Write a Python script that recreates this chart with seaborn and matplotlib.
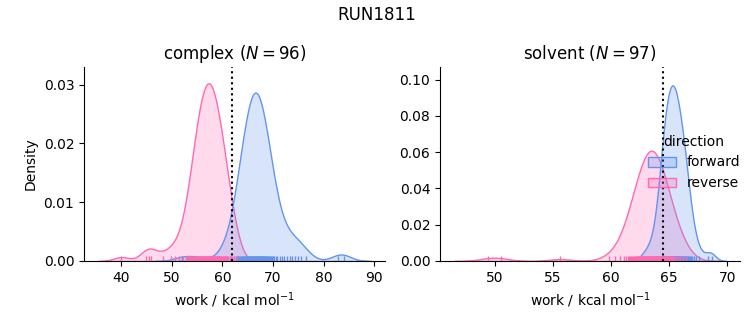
import matplotlib
matplotlib.use("Agg")
import matplotlib.pyplot as plt
import numpy as np
import pandas as pd
import seaborn as sns

run_name = "RUN1811"
phases = ["complex", "solvent"]
directions = ["forward", "reverse"]
colors = {"forward": "cornflowerblue", "reverse": "hotpink"}

complex_forward = [
    52.0, 54.8, 59.8, 60.6, 61.6, 62.3, 62.7, 62.9, 63.0,
    63.1, 63.3, 63.5, 63.7, 63.8, 63.9,
    64.0, 64.15, 64.3, 64.4, 64.5, 64.6, 64.7, 64.8, 64.9,
    65.0, 65.1, 65.15, 65.2, 65.3, 65.4, 65.5, 65.6, 65.65, 65.7, 65.8, 65.9, 65.95,
    66.0, 66.1, 66.2, 66.25, 66.3, 66.4, 66.5, 66.55, 66.6, 66.7, 66.75,
    66.8, 66.9, 66.95,
    67.0, 67.1, 67.2, 67.3, 67.4, 67.5, 67.6, 67.65, 67.7, 67.8, 67.9, 67.95,
    68.0, 68.1, 68.2, 68.3, 68.4, 68.5, 68.6, 68.7, 68.8, 68.9,
    69.1, 69.2, 69.4, 69.5, 69.6, 69.8, 69.9, 70.0,
    70.2, 70.5, 70.8, 71.3, 71.7, 72.2, 72.7, 73.3, 73.8, 74.4, 74.9,
    75.6, 76.6, 82.9, 84.0,
]
complex_reverse = [
    40.1, 45.0, 45.5, 45.9, 48.3, 49.9, 50.6, 51.5, 52.3, 52.8,
    53.0, 53.2, 53.5, 53.7, 53.9,
    54.1, 54.2, 54.4, 54.5, 54.6, 54.7, 54.8, 54.9,
    55.0, 55.1, 55.2, 55.3, 55.4, 55.5, 55.6, 55.7, 55.8, 55.9, 55.95,
    56.0, 56.1, 56.15, 56.2, 56.3, 56.4, 56.5, 56.6, 56.7, 56.75, 56.8, 56.9, 56.95,
    57.0, 57.1, 57.2, 57.3, 57.35, 57.4, 57.5, 57.6, 57.65, 57.7,
    57.8, 57.9, 57.95,
    58.0, 58.1, 58.2, 58.3, 58.35, 58.4, 58.5, 58.6, 58.7, 58.8, 58.9, 58.95,
    59.0, 59.1, 59.2, 59.3, 59.4, 59.5, 59.6, 59.7, 59.8, 59.9,
    60.1, 60.2, 60.4, 60.5, 60.6, 60.8, 60.9, 61.0,
    61.2, 61.5, 61.7, 61.9, 62.3, 62.8,
]
solvent_forward = [
    62.8, 63.2, 63.5, 63.7, 63.85, 63.95,
    64.05, 64.12, 64.2, 64.27, 64.3, 64.33, 64.38, 64.42, 64.46, 64.49,
    64.51, 64.54, 64.57, 64.6, 64.63, 64.66, 64.69, 64.72, 64.75, 64.78,
    64.81, 64.84, 64.87, 64.9, 64.93, 64.96, 64.98,
    65.01, 65.03, 65.05, 65.07, 65.1, 65.12, 65.14, 65.17, 65.21,
    65.24, 65.26, 65.28, 65.3, 65.33, 65.35, 65.37, 65.4, 65.42, 65.44,
    65.46, 65.48,
    65.51, 65.54, 65.56, 65.59, 65.64, 65.67, 65.7, 65.72, 65.75,
    65.78, 65.8, 65.83, 65.86, 65.88, 65.91, 65.94, 65.96, 65.99,
    66.03, 66.07, 66.1, 66.14, 66.18, 66.21, 66.25, 66.29, 66.32, 66.36,
    66.4, 66.44, 66.48,
    66.55, 66.6, 66.62, 66.7, 66.78, 66.86, 66.94,
    67.1, 67.3, 67.6, 68.3, 68.7,
]
solvent_reverse = [
    49.4, 50.5, 55.6, 59.8, 60.3, 60.8, 61.1, 61.3, 61.45,
    61.55, 61.65, 61.75, 61.83, 61.9, 61.97,
    62.05, 62.1, 62.16, 62.22, 62.28, 62.33, 62.38, 62.43, 62.48,
    62.52, 62.56, 62.6, 62.64, 62.68, 62.72, 62.76, 62.8, 62.84, 62.88,
    62.92, 62.96,
    63.01, 63.04, 63.07, 63.1, 63.14, 63.17, 63.2, 63.24, 63.27, 63.3,
    63.34, 63.37, 63.41, 63.45, 63.48,
    63.52, 63.55, 63.58, 63.62, 63.65, 63.68, 63.72, 63.75, 63.78, 63.82,
    63.85, 63.88, 63.92, 63.95, 63.98,
    64.02, 64.06, 64.1, 64.14, 64.18, 64.22, 64.27, 64.31, 64.35, 64.4,
    64.44, 64.48,
    64.53, 64.58, 64.63, 64.68, 64.73, 64.78, 64.84, 64.9, 64.96,
    65.05, 65.15, 65.25, 65.35, 65.45, 65.6, 65.75, 65.9, 66.15, 66.4,
]
free_energy = {"complex": 61.9, "solvent": 64.5}

data = {
    ("complex", "forward"): complex_forward,
    ("complex", "reverse"): complex_reverse,
    ("solvent", "forward"): solvent_forward,
    ("solvent", "reverse"): solvent_reverse,
}
rows = []
for (phase, direction), values in data.items():
    for v in values:
        rows.append((phase, direction, v))
df = pd.DataFrame(rows, columns=["phase", "direction", "work"])

g = sns.displot(
    data=df, x="work", hue="direction", col="phase", kind="kde",
    fill=True, rug=True, palette=colors, hue_order=directions,
    col_order=phases, facet_kws=dict(sharex=False, sharey=False),
)
fig = g.figure
fig.set_size_inches(7.53, 3.25)
g.set_axis_labels("work / kcal mol$^{-1}$", "Density")

ax1, ax2 = g.axes.flat
ax1.set_title(f"complex ($N = {len(complex_forward)}$)", fontsize=12)
ax2.set_title(f"solvent ($N = {len(solvent_forward)}$)", fontsize=12)
ax1.axvline(free_energy["complex"], color="k", ls=":")
ax2.axvline(free_energy["solvent"], color="k", ls=":")
ax1.set_xlim(32.7, 92.1)
ax1.set_ylim(0, 0.0330)
ax2.set_xlim(45.27, 71.09)
ax2.set_ylim(0, 0.107)

fig.suptitle(run_name, fontsize=12)
ax1.set_position([84 / 753, 64 / 325, 301 / 753, 194 / 325])
ax2.set_position([440 / 753, 64 / 325, 300 / 753, 194 / 325])
sns.move_legend(g, "center right", bbox_to_anchor=(1.0, 0.5), frameon=False)

fig.savefig("out.png", dpi=100)
